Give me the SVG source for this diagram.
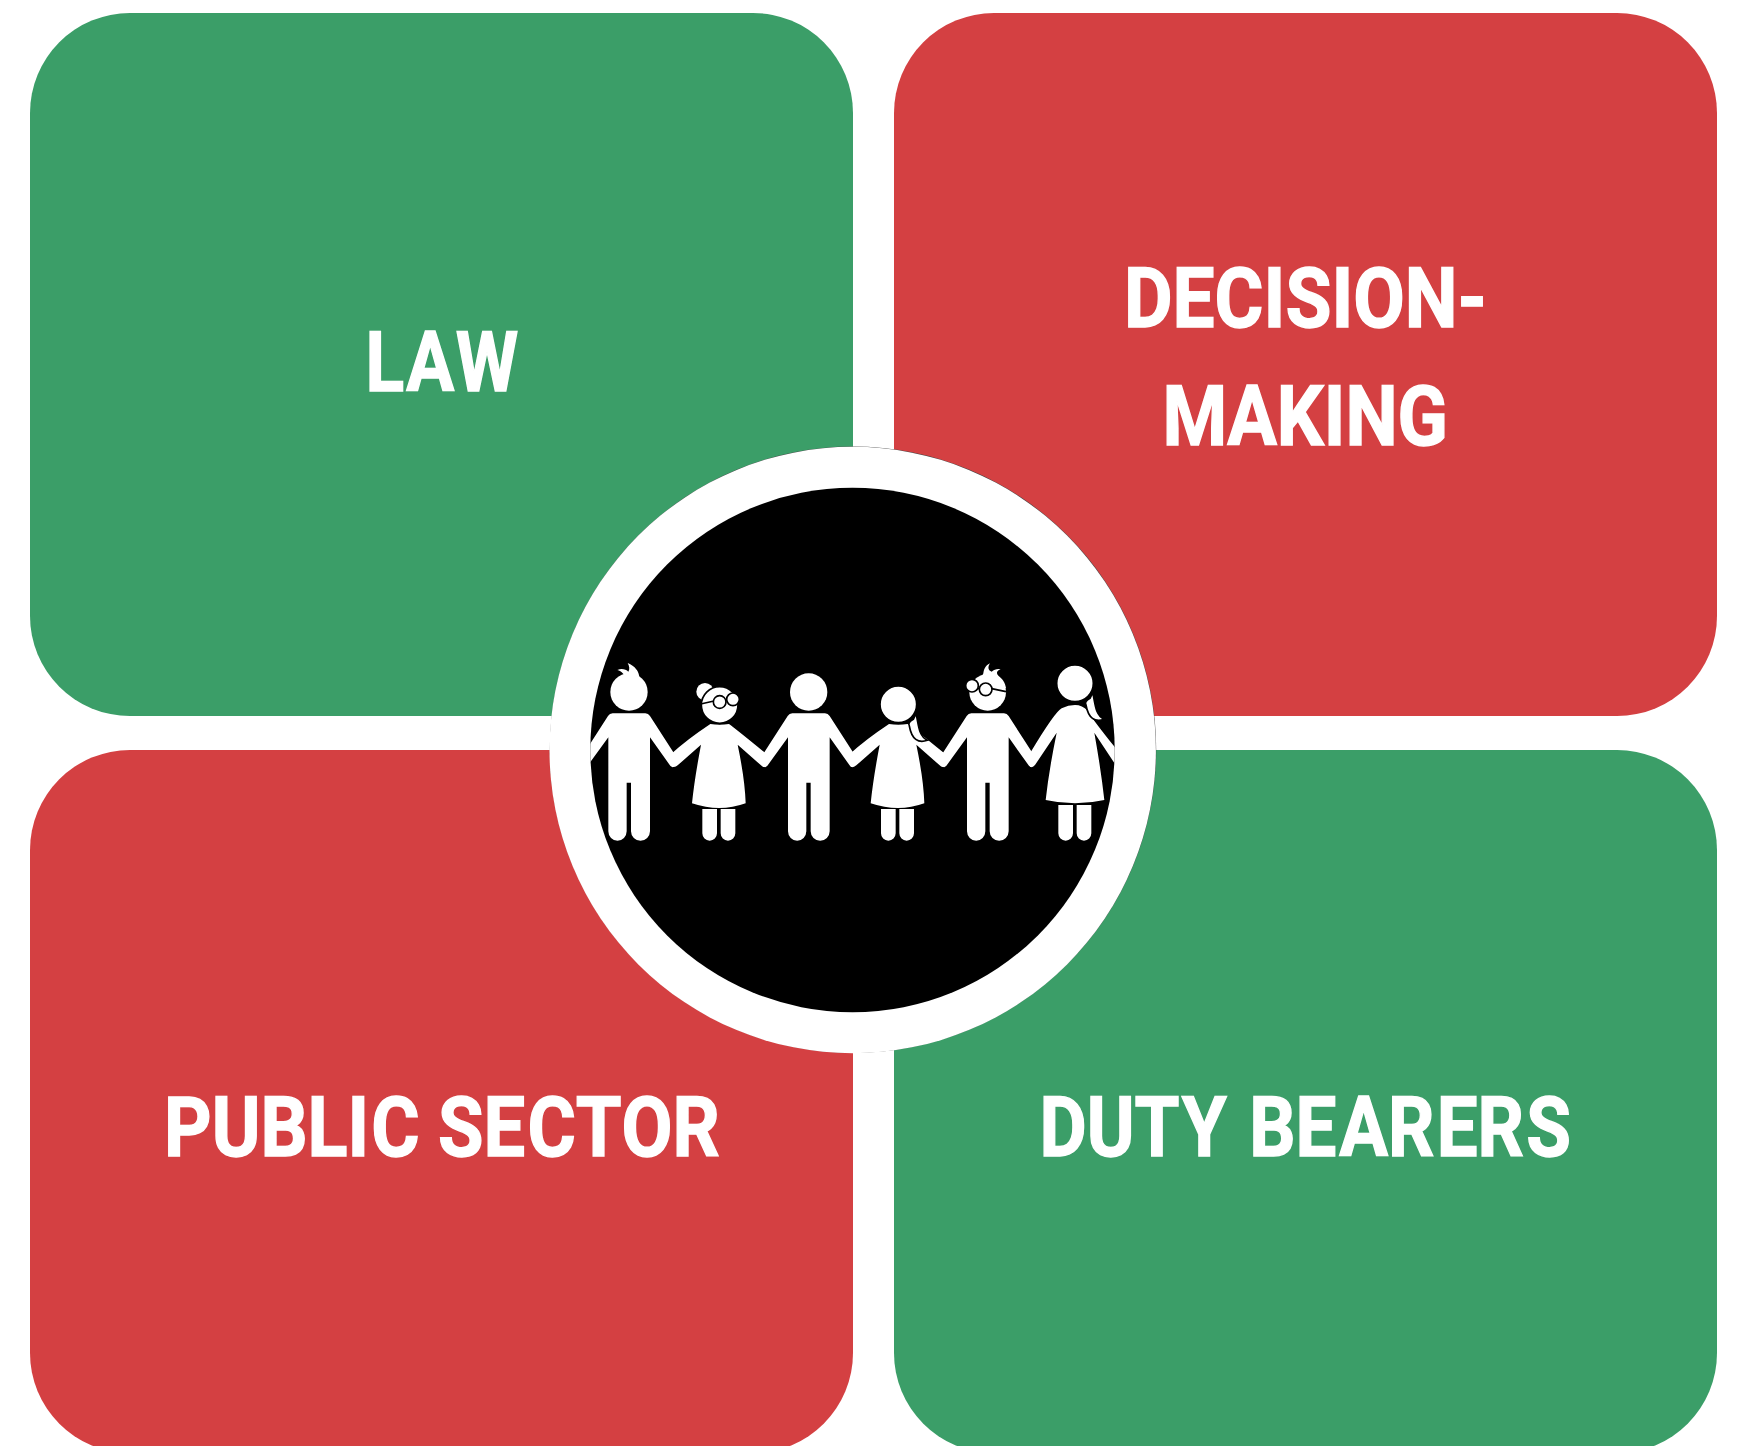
<svg xmlns="http://www.w3.org/2000/svg" xmlns:xlink="http://www.w3.org/1999/xlink" width="1737" height="1446" viewBox="0 0 1737 1446">
<style>
.g{fill:#3b9e68}.r{fill:#d44042}
text{font-family:"Roboto","Liberation Sans",sans-serif;font-weight:700;font-size:84px;fill:#fff;stroke:#fff;stroke-width:1.400px;font-kerning:none;text-anchor:start}
.w{fill:#fff}.k{stroke:#000;stroke-width:5;fill:#fff}.l{stroke:#000;stroke-width:5;fill:none}
</style>
<defs>
<clipPath id="inner"><circle cx="852.500" cy="750" r="262.200"/></clipPath>
<path id="man" d="M-49,220H49Q58,220 63,228L135,340V380Q127,385 120,372L63,292V574A28.500,28 0 0 1 6,574V428H-7V574A27.500,28 0 0 1 -62,574V292L-120,372Q-127,385 -135,380V340L-63,228Q-58,220 -49,220Z"/>
<path id="woman" d="M-28,252Q0,256 28,252Q50,268 138,340V380Q130,384 124,376L54,314Q76,420 78,490Q0,518 -83,490Q-76,420 -56,314L-126,376Q-134,384 -143,380V340Q-100,300 -28,252ZM-52,507H-8V580A22,22 0 0 1 -52,580ZM3,507H47V580A22,22 0 0 1 3,580Z"/>
<path id="tall" d="M0,195Q22,195 38,212Q50,235 120,322V372L58,278Q78,390 88,480Q0,500 -88,480Q-78,390 -55,278L-120,375Q-127,384 -135,380V340Q-60,215 -40,205Q-20,195 0,195ZM-50,495H-6V580A22,22 0 0 1 -50,580ZM5,495H49V580A22,22 0 0 1 5,580Z"/>
</defs>
<g id="node-law"><rect class="g" x="30" y="13" width="823" height="703" rx="100" ry="100"/><text transform="translate(365.500 391) scale(.85 1)" dx="0 2.600 1.800">LAW</text></g>
<g id="node-decision"><rect class="r" x="894" y="13" width="823" height="703" rx="100" ry="100"/><text transform="translate(1124 327) scale(.89 1)">DECISION-</text><text transform="translate(1162.500 445) scale(.88 1)">MAKING</text></g>
<g id="node-public"><rect class="r" x="30" y="750" width="823" height="703" rx="100" ry="100"/><text transform="translate(164 1156) scale(.88 1)" dx="0 0 0 0 0 2.500 0 0 0 2.500">PUBLIC SECTOR</text></g>
<g id="node-duty"><rect class="g" x="894" y="750" width="823" height="703" rx="100" ry="100"/><text transform="translate(1039.500 1156) scale(.865 1)" dx="0 0 0 2.500 0 5 0 3.200 0 2.500 0 2.500">DUTY BEARERS</text></g>
<g id="center">
<circle cx="853" cy="749.700" r="303.200" fill="#444"/>
<circle cx="852.700" cy="750" r="303.200" fill="#fff"/>
<circle cx="852.500" cy="750" r="262.200" fill="#000"/>
<g clip-path="url(#inner)">
<g id="figure-1" transform="translate(570 640) scale(.33333)">
<use xlink:href="#man" href="#man" x="177" class="w"/>
<circle cx="177" cy="156" r="56" class="w"/>
<path class="w" d="M142,90C155,84 168,88 175,95C180,88 178,78 173,69C195,78 208,95 208,112C215,118 225,128 228,140L170,120C165,105 155,92 142,90Z"/>
</g>
<g id="figure-2" transform="translate(570 640) scale(.33333)">
<use xlink:href="#woman" href="#woman" x="449" class="w"/>
<circle cx="405" cy="155" r="26" class="w"/>
<circle cx="449" cy="195" r="55" class="k"/>
<path class="l" d="M392,192L432,183M466,182L472,180"/>
<circle cx="449" cy="186" r="19" class="k"/>
<circle cx="489" cy="178" r="19" class="k"/>
</g>
<g id="figure-3" transform="translate(570 640) scale(.33333)">
<use xlink:href="#man" href="#man" x="716" class="w"/>
<circle cx="716" cy="156" r="56" class="w"/>
</g>
<g id="figure-4" transform="translate(860 640) scale(.33333)">
<use xlink:href="#woman" href="#woman" x="115" class="w"/>
<path class="k" d="M168,221C176,253 175,288 202,301C175,311 155,298 148,258Q142,248 160,238Z"/>
<circle cx="115" cy="193" r="55" class="k"/>
</g>
<g id="figure-5" transform="translate(860 640) scale(.33333)">
<use xlink:href="#man" href="#man" x="383" class="w"/>
<path class="w" d="M352,125C355,115 368,110 370,100C372,88 375,78 390,70C382,82 385,92 395,95C403,88 412,86 422,88C410,92 408,100 416,108C428,118 436,128 438,145L360,135Z"/>
<circle cx="383" cy="157" r="55" class="w"/>
<path class="l" d="M395,146L438,155M349,143L358,146"/>
<circle cx="377" cy="148" r="19" class="k"/>
<circle cx="336" cy="137" r="19" class="k"/>
</g>
<g id="figure-6" transform="translate(860 640) scale(.33333)">
<use xlink:href="#tall" href="#tall" x="645" class="w"/>
<path class="k" d="M698,158C706,190 705,225 732,238C705,248 685,235 678,195Q672,185 690,175Z"/>
<circle cx="645" cy="130" r="55" class="k"/>
</g>
</g>
</g>
<g id="connectors"/>
</svg>
